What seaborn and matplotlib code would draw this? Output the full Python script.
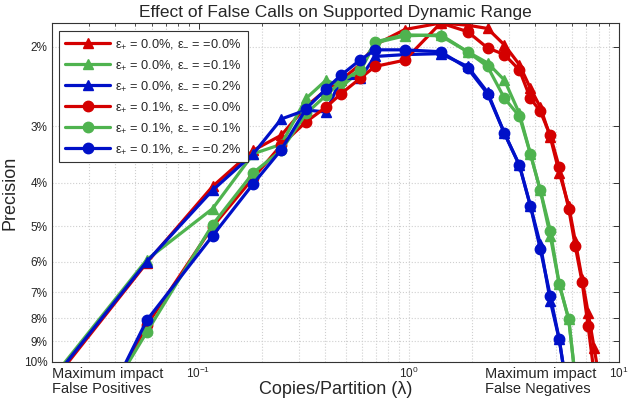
import numpy as np
import pandas as pd
import matplotlib
matplotlib.use("Agg")
import matplotlib.pyplot as plt
import seaborn as sns
from matplotlib.ticker import FixedLocator, FixedFormatter, NullLocator, LogLocator, NullFormatter

# ---------------- data ----------------
LAMBDA = [0.0156, 0.0336, 0.0567, 0.1165, 0.1823, 0.2474, 0.3250, 0.4043, 0.4761,
          0.5857, 0.6901, 0.9572, 1.418, 1.904, 2.368, 2.851, 3.358, 3.787, 4.223,
          4.710, 5.196, 5.765, 6.188, 6.677, 7.131, 7.612, 8.13]

# precision in percent (None = no point)
P_A = [12.9, None, 6.02, 4.08, 3.39, 3.14, 2.71, 2.49, 2.37, 2.19, 1.98, 1.83, 1.77,
       1.79, 1.82, 1.98, 2.19, 2.47, 2.72, 3.17, 3.80, 4.50, 5.38, 6.55, 7.77, 9.30, 11.15]
P_B = [12.6, None, 5.93, 4.57, 3.45, 3.29, 2.60, 2.37, 2.45, 2.27, 1.96, 1.89, 1.88,
       2.05, 2.17, 2.37, 2.81, 3.45, 4.16, 5.25, 6.72, 8.04, 10.8, None, None, None, None]
P_C = [12.74, None, 5.99, 4.16, 3.45, 2.89, 2.76, 2.79, 2.35, 2.35, 2.10, 2.08, 2.07,
       2.21, 2.52, 3.11, 3.66, 4.50, 5.48, 7.32, 8.91, 12.2, None, None, None, None, None]
P_D = [None, 13.2, 8.28, 5.01, 3.90, 3.30, 2.93, 2.72, 2.54, 2.35, 2.21, 2.14, 1.77,
       1.85, 2.01, 2.08, 2.25, 2.60, 2.78, 3.14, 3.70, 4.57, 5.52, 6.65, 8.32, 10.6, None]
P_E = [None, 12.87, 8.58, 4.96, 3.80, 3.39, 2.81, 2.56, 2.39, 2.25, 1.95, 1.88, 1.89,
       2.05, 2.21, 2.60, 2.85, 3.45, 4.16, 5.11, 6.72, 8.04, 10.8, None, None, None, None]
P_F = [None, 13.2, 8.08, 5.25, 4.02, 3.38, 2.74, 2.48, 2.31, 2.14, 2.03, 2.03, 2.05,
       2.23, 2.54, 3.11, 3.66, 4.50, 5.62, 7.13, 8.91, 12.2, None, None, None, None, None]

LABELS = [r"ε$_{+}$ = 0.0%, ε$_{-}$ = =0.0%",
          r"ε$_{+}$ = 0.0%, ε$_{-}$ = =0.1%",
          r"ε$_{+}$ = 0.0%, ε$_{-}$ = =0.2%",
          r"ε$_{+}$ = 0.1%, ε$_{-}$ = =0.0%",
          r"ε$_{+}$ = 0.1%, ε$_{-}$ = =0.1%",
          r"ε$_{+}$ = 0.1%, ε$_{-}$ = =0.2%"]

YTICKS = [2, 3, 4, 5, 6, 7, 8, 9, 10]
YTICKLABELS = ["2%", "3%", "4%", "5%", "6%", "7%", "8%", "9%", "10%"]

TITLE = "Effect of False Calls on Supported Dynamic Range"
XLABEL = "Copies/Partition (λ)"
YLABEL = "Precision"
NOTE_LEFT = "Maximum impact\nFalse Positives"
NOTE_RIGHT = "Maximum impact\nFalse Negatives"

# ---------------- style ----------------
RED, GREEN, BLUE = "#d40000", "#4fb34f", "#0010c8"
COLORS = [RED, GREEN, BLUE, RED, GREEN, BLUE]
MARKERS = ["^", "^", "^", "o", "o", "o"]

sns.set_theme(style="white")
plt.rcParams["font.family"] = ["Liberation Sans", "DejaVu Sans"]
plt.rcParams["mathtext.fontset"] = "custom"
plt.rcParams["mathtext.rm"] = "Liberation Sans"
plt.rcParams["mathtext.it"] = "Liberation Sans:italic"
plt.rcParams["mathtext.bf"] = "Liberation Sans:bold"

fig = plt.figure(figsize=(6.29, 4.07), dpi=100)
ax = fig.add_axes([0.0822, 0.1106, 0.9019, 0.8329])

series = [P_A, P_B, P_C, P_D, P_E, P_F]
for vals, lab, col, mk in zip(series, LABELS, COLORS, MARKERS):
    df = pd.DataFrame({"lam": LAMBDA, "prec": vals}).dropna()
    sns.lineplot(data=df, x="lam", y="prec", ax=ax, color=col, marker=mk,
                 markersize=7.5, markeredgecolor=col, markeredgewidth=1,
                 linewidth=2.3, label=lab, estimator=None, sort=False)

ax.set_xscale("log")
ax.set_yscale("log")
ax.set_xlim(0.02, 10)
ax.set_ylim(10, 1.77)

ax.yaxis.set_major_locator(FixedLocator(YTICKS))
ax.yaxis.set_major_formatter(FixedFormatter(YTICKLABELS))
ax.yaxis.set_minor_locator(NullLocator())
ax.xaxis.set_major_locator(LogLocator(base=10))
ax.xaxis.set_minor_locator(LogLocator(base=10, subs=np.arange(2, 10)))
ax.xaxis.set_minor_formatter(NullFormatter())

ax.grid(True, which="both", axis="x", linestyle=":", color="#cfcfcf", linewidth=0.8)
ax.grid(True, which="major", axis="y", linestyle=":", color="#cfcfcf", linewidth=0.8)

ax.tick_params(which="both", direction="in", top=True, right=True,
               labelsize=8.5, color="#333333", pad=3)
ax.tick_params(which="major", length=4, width=0.7)
ax.tick_params(which="minor", length=2.5, width=0.6)
for s in ax.spines.values():
    s.set_color("#333333")
    s.set_linewidth(0.8)

ax.set_title(TITLE, fontsize=12.5, pad=4)
ax.set_xlabel(XLABEL, fontsize=13, labelpad=0)
ax.set_ylabel(YLABEL, fontsize=13, labelpad=4)

ax.text(0.0, -0.015, NOTE_LEFT, transform=ax.transAxes, ha="left", va="top",
        fontsize=10.5, linespacing=1.05)
ax.text(0.763, -0.015, NOTE_RIGHT, transform=ax.transAxes, ha="left", va="top",
        fontsize=10.5, linespacing=1.05)

leg = ax.legend(loc="upper left", bbox_to_anchor=(0.0128, 0.976), borderaxespad=0,
                frameon=True, fancybox=False, edgecolor="#333333", framealpha=1,
                fontsize=9.2, handlelength=3.5, labelspacing=0.55, borderpad=0.5,
                handletextpad=0.4)
leg.get_frame().set_linewidth(0.8)

fig.savefig("out.png", dpi=100)
